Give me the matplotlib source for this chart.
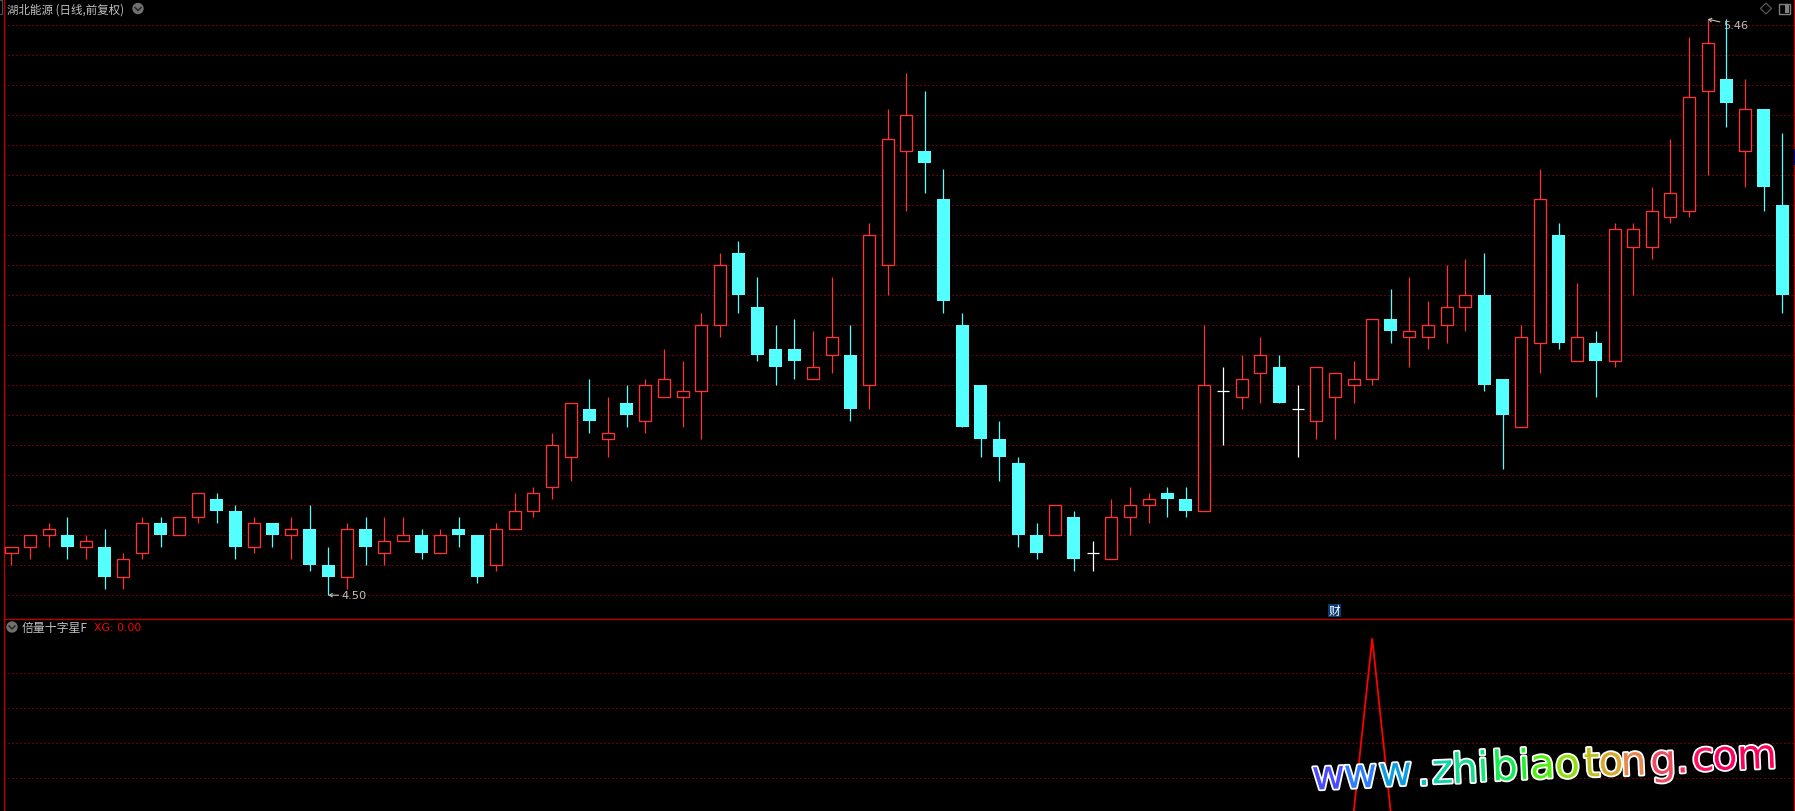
import matplotlib
matplotlib.use("Agg")
import matplotlib.pyplot as plt
from matplotlib.lines import Line2D
from matplotlib.patches import Rectangle, Circle, Polygon
import matplotlib.patheffects as pe
from matplotlib.ticker import MultipleLocator, NullFormatter

plt.rcParams['font.family'] = ['Noto Sans CJK SC', 'DejaVu Sans']

# ---- data -------------------------------------------------------------
open_px = [4.57,4.58,4.60,4.60,4.58,4.58,4.53,4.57,4.62,4.60,4.63,4.66,4.64,4.58,4.62,4.60,4.61,4.55,4.53,4.61,4.57,4.59,4.60,4.57,4.61,4.60,4.55,4.61,4.64,4.68,
           4.73,4.81,4.76,4.82,4.79,4.83,4.83,4.84,4.95,5.07,4.98,4.91,4.91,4.86,4.90,4.90,4.85,5.05,5.24,5.24,5.16,4.95,4.85,4.76,4.72,4.60,4.60,4.63,4.57,4.56,
           4.63,4.65,4.67,4.66,4.64,4.84,4.83,4.87,4.88,4.81,4.79,4.83,4.85,4.86,4.96,4.93,4.93,4.95,4.98,5.00,4.86,4.78,4.92,5.10,4.89,4.92,4.89,5.08,5.08,5.13,5.14,5.34,5.36,5.24,5.31,5.15]
close_px = [4.58,4.60,4.61,4.58,4.59,4.53,4.56,4.62,4.60,4.63,4.67,4.64,4.58,4.62,4.60,4.61,4.55,4.53,4.61,4.58,4.59,4.60,4.57,4.60,4.60,4.53,4.61,4.64,4.67,4.75,
            4.82,4.79,4.77,4.80,4.85,4.86,4.84,4.95,5.05,5.00,4.90,4.88,4.89,4.88,4.93,4.81,5.10,5.26,5.30,5.22,4.99,4.78,4.76,4.73,4.60,4.57,4.65,4.56,4.57,4.63,
            4.65,4.66,4.66,4.64,4.85,4.84,4.86,4.90,4.82,4.81,4.88,4.87,4.86,4.96,4.94,4.94,4.95,4.98,5.00,4.85,4.80,4.93,5.16,4.92,4.93,4.89,5.11,5.11,5.14,5.17,5.33,5.42,5.32,5.31,5.18,5.00]
high_px = [4.58,4.60,4.62,4.63,4.60,4.61,4.57,4.63,4.63,4.63,4.67,4.67,4.65,4.63,4.62,4.63,4.65,4.58,4.62,4.63,4.63,4.63,4.61,4.61,4.63,4.60,4.62,4.67,4.68,4.77,
           4.82,4.86,4.83,4.85,4.86,4.91,4.89,4.97,5.07,5.09,5.03,4.95,4.96,4.94,5.03,4.95,5.12,5.31,5.37,5.34,5.21,4.97,4.85,4.79,4.73,4.62,4.65,4.64,4.59,4.66,
           4.68,4.67,4.68,4.68,4.95,4.88,4.90,4.93,4.90,4.85,4.88,4.87,4.89,4.96,5.01,5.03,4.99,5.05,5.06,5.07,4.86,4.95,5.21,5.12,5.02,4.94,5.12,5.12,5.18,5.26,5.43,5.46,5.46,5.36,5.31,5.27]
low_px = [4.55,4.56,4.58,4.56,4.56,4.51,4.51,4.56,4.58,4.60,4.62,4.62,4.56,4.57,4.58,4.56,4.54,4.50,4.51,4.55,4.55,4.59,4.56,4.57,4.58,4.52,4.54,4.61,4.63,4.66,
          4.69,4.77,4.73,4.78,4.77,4.83,4.78,4.76,4.93,4.97,4.89,4.85,4.86,4.86,4.87,4.79,4.81,5.00,5.14,5.17,4.97,4.78,4.73,4.69,4.58,4.56,4.60,4.54,4.54,4.56,
          4.60,4.62,4.63,4.63,4.64,4.75,4.81,4.82,4.82,4.73,4.76,4.76,4.82,4.85,4.92,4.88,4.91,4.92,4.94,4.84,4.71,4.78,4.87,4.91,4.89,4.83,4.88,5.00,5.06,5.12,5.13,5.20,5.28,5.18,5.14,4.97]
day = list(range(1, 97))
xg = [0.0] * 73 + [1.0] + [0.0] * 22
price_grid = [4.50,4.55,4.60,4.65,4.70,4.75,4.80,4.85,4.90,4.95,5.00,5.05,5.10,5.15,5.20,5.25,5.30,5.35,5.40,5.45]
xg_grid = [0.2, 0.4, 0.6, 0.8]

title_main = "湖北能源 (日线,前复权)"
title_sub = "倍量十字星F"
xg_label = "XG: 0.00"
low_label = "4.50"
high_label = "5.46"
wm_chars = list("www.zhibiaotong.com")
wm_colors = ['#4a4aff','#2f7cff','#0c9fe0','#10c0c8','#10d4a8','#10e090','#10e878','#10ee50','#20f030','#50f010',
             '#90e010','#c0c020','#d8a830','#e88850','#f04a60','#f83060','#ff1060','#ff0060','#ff0058']

# ---- layout -----------------------------------------------------------
W, H = 1795, 812
LEFT, RIGHT = 3.5, 1793.5
SEP = 619.5
X0, STEP = 11.5, 18.64
GRID_RED = '#d80000'
SPINE_RED = '#b80000'
UP = '#ff3232'
DOWN = '#54ffff'
GREY = '#c0c0c0'
wm_x = [1329,1361,1396,1424,1443,1465.5,1483.6,1505.5,1524.6,1543,1568,1592.4,1611.5,1634,1663.6,1682.8,1703.6,1725.5,1757.5]
wm_base = [790,788.5,786.5,786,784,783.5,782,781,780,779,778.5,777.5,776,776,775,773.5,771.5,770.5,769.5]

fig = plt.figure(figsize=(W/100, H/100), dpi=100, facecolor='black')

def fx(x): return x / W
def fy(y): return 1 - y / H

ax = fig.add_axes([fx(LEFT), fy(SEP), (RIGHT-LEFT)/W, SEP/H], facecolor='black')
sub = fig.add_axes([fx(LEFT), 0, (RIGHT-LEFT)/W, (H-SEP)/H], facecolor='black', sharex=ax)

ax.set_xlim(1 + (LEFT-X0)/STEP, 1 + (RIGHT-X0)/STEP)
ax.set_ylim(4.5 - (SEP-596.2)/600, 4.5 + 596.2/600)
sub.set_ylim(1 - (H-639.3)/175, 1 + (639.3-SEP)/175)

for a in (ax, sub):
    a.set_axisbelow(True)
    a.tick_params(axis='x', which='both', length=0, labelbottom=False)
    a.yaxis.tick_right()
    a.tick_params(axis='y', which='both', length=1.5, width=0.8, color=SPINE_RED, labelright=False, direction='out')
    a.yaxis.set_major_formatter(NullFormatter())
    for s in a.spines.values():
        s.set_color(SPINE_RED)
        s.set_linewidth(1.0)
ax.spines['top'].set_visible(False)
ax.spines['bottom'].set_visible(False)
sub.spines['bottom'].set_visible(False)

ax.yaxis.set_major_locator(MultipleLocator(0.025))
sub.yaxis.set_major_locator(MultipleLocator(0.1))

for v in price_grid:
    ax.axhline(v, color=GRID_RED, lw=0.72, ls=(0, (1, 3)), dash_capstyle='butt', zorder=1)
for v in xg_grid:
    sub.axhline(v, color=GRID_RED, lw=0.72, ls=(0, (1, 3)), dash_capstyle='butt', zorder=1)

# candles
BODY = 13 / STEP
for d, o, h, l, c in zip(day, open_px, high_px, low_px, close_px):
    if o == c:
        ax.vlines(d, l, h, color='white', lw=0.9, zorder=3)
        ax.hlines(c, d - 6/STEP, d + 6/STEP, color='white', lw=0.9, zorder=3)
    elif c > o:
        ax.vlines(d, l, h, color=UP, lw=0.9, zorder=3)
        ax.bar(d, c - o, bottom=o, width=12/STEP, facecolor='black', edgecolor=UP, linewidth=0.95, zorder=4)
    else:
        ax.vlines(d, l, h, color=DOWN, lw=0.9, zorder=3)
        ax.bar(d, o - c, bottom=c, width=BODY, facecolor=DOWN, edgecolor='none', linewidth=0, zorder=4)

# extreme labels
imin = low_px.index(min(low_px))
imax = high_px.index(max(high_px))
ax.annotate(low_label, xy=(day[imin], low_px[imin]), xytext=(13, 0), textcoords='offset pixels',
            color=GREY, fontsize=8.2, va='center', ha='left', family=['DejaVu Sans'],
            arrowprops=dict(arrowstyle='->,head_length=0.25,head_width=0.15', color=GREY, lw=0.8, shrinkA=0, shrinkB=0), zorder=6)
ax.annotate(high_label, xy=(day[imax], high_px[imax]), xytext=(15, -6), textcoords='offset pixels',
            color=GREY, fontsize=8.2, va='center', ha='left', family=['DejaVu Sans'],
            arrowprops=dict(arrowstyle='->,head_length=0.25,head_width=0.15', color=GREY, lw=0.8, shrinkA=0, shrinkB=0), zorder=6)

# sub pane line
sub.plot(day, xg, color='#ff0000', lw=1.3, zorder=3, solid_joinstyle='miter')

# titles
fig.text(fx(7), fy(10), title_main, color=GREY, fontsize=8.3, va='center', ha='left')
fig.text(fx(22), fy(628), title_sub, color=GREY, fontsize=8.6, va='center', ha='left')
fig.text(fx(94), fy(628), xg_label, color='#ff0000', fontsize=7.8, va='center', ha='left', family=['DejaVu Sans'])

# round menu icons
for cx, cy in [(138, 9.5), (12, 628)]:
    fig.add_artist(Circle((cx, H - cy), 5.7, transform=None, facecolor='#707070', edgecolor='none'))
    fig.add_artist(Line2D([cx-3, cx, cx+3], [H-cy+1, H-cy-2, H-cy+1], transform=None, color='#202020', lw=1.0))

# top-right tool icons and top-left bracket
fig.add_artist(Polygon([(1760.5, H-9.5), (1766, H-4), (1771.5, H-9.5), (1766, H-15)], closed=True, transform=None,
                       facecolor='none', edgecolor='#606060', lw=0.8))
fig.add_artist(Rectangle((1778.5, H-15), 11, 10.5, transform=None, facecolor='none', edgecolor='#808080', lw=1.0))
fig.add_artist(Rectangle((1785, H-13.5), 3.5, 7.5, transform=None, facecolor='#808080', edgecolor='none'))
fig.add_artist(Line2D([0, 2, 2, 0], [H-1, H-1, H-15, H-15], transform=None, color='#505050', lw=0.8))
fig.add_artist(Rectangle((1794, H-166), 1, 16, transform=None, facecolor='#000090', edgecolor='none'))

# 财 badge
fig.add_artist(Rectangle((1328, H-617.7), 13, 12.7, transform=None, facecolor='#0b3a70', edgecolor='none'))
fig.text(fx(1334.5), fy(611.5), '财', color='white', fontsize=8.4, va='center', ha='center')

# watermark
for ch, col, x, y in zip(wm_chars, wm_colors, wm_x, wm_base):
    fig.text(fx(x), fy(y), ch, color=col, fontsize=29.5, family=['DejaVu Sans'], ha='center', va='baseline',
             rotation=2.5, rotation_mode='anchor', zorder=20,
             path_effects=[pe.withStroke(linewidth=2.6, foreground='white')])

fig.savefig('out.png', dpi=100, facecolor='black')
